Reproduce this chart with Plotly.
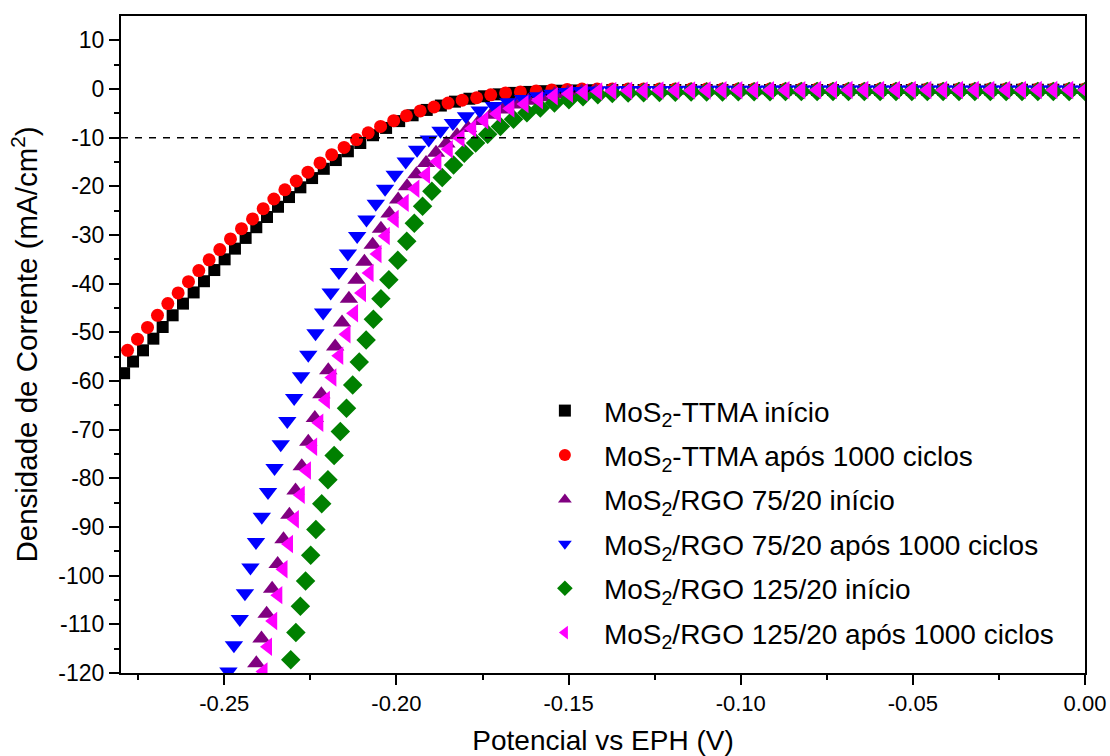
import plotly.graph_objects as go

# Linear sweep voltammetry (HER) – current density vs potential

# MoS2-TTMA início
BLK_X = [-0.2791, -0.2765, -0.2736, -0.2706, -0.2679, -0.2650, -0.2620, -0.2589, -0.2559, -0.2529,
         -0.2499, -0.2469, -0.2438, -0.2407, -0.2376, -0.2344, -0.2312, -0.2279, -0.2245, -0.2211,
         -0.2176, -0.2141, -0.2105, -0.2068, -0.2030, -0.1992, -0.1953, -0.1912, -0.1871, -0.1830,
         -0.1788, -0.1746, -0.1703, -0.1659, -0.1615, -0.1570, -0.1525, -0.1480, -0.1436]
BLK_Y = [-58.4, -56.0, -53.7, -51.3, -48.9, -46.5, -44.1, -41.8, -39.5, -37.2,
         -35.0, -32.8, -30.6, -28.4, -26.3, -24.2, -22.2, -20.2, -18.3, -16.4,
         -14.6, -12.8, -11.1, -9.5, -8.0, -6.6, -5.4, -4.3, -3.4, -2.6,
         -2.0, -1.5, -1.1, -0.8, -0.6, -0.45, -0.35, -0.3, -0.25]

# MoS2-TTMA após 1000 ciclos
RED_X = [-0.2781, -0.2752, -0.2723, -0.2694, -0.2664, -0.2634, -0.2604, -0.2574, -0.2544, -0.2513,
         -0.2482, -0.2450, -0.2418, -0.2387, -0.2356, -0.2324, -0.2291, -0.2257, -0.2222, -0.2188,
         -0.2152, -0.2116, -0.2082, -0.2046, -0.2008, -0.1971, -0.1931, -0.1891, -0.1850, -0.1809,
         -0.1767, -0.1726, -0.1683, -0.1640, -0.1594, -0.1549, -0.1504, -0.1461, -0.1417]
RED_Y = [-53.7, -51.4, -49.0, -46.5, -44.1, -41.9, -39.6, -37.3, -35.1, -33.0,
         -30.8, -28.7, -26.7, -24.6, -22.6, -20.7, -18.9, -17.1, -15.2, -13.5,
         -12.0, -10.4, -9.0, -7.7, -6.5, -5.5, -4.5, -3.7, -2.9, -2.3,
         -1.8, -1.2, -0.8, -0.6, -0.4, -0.2, -0.1, 0.0, 0.0]

# MoS2/RGO 75/20 início
PUR_X = [-0.2407, -0.2392, -0.2377, -0.2361, -0.2345, -0.2328, -0.2311, -0.2293, -0.2275, -0.2256,
         -0.2237, -0.2218, -0.2198, -0.2178, -0.2158, -0.2138, -0.2116, -0.2093, -0.2069, -0.2045,
         -0.2020, -0.1995, -0.1969, -0.1942, -0.1914, -0.1885, -0.1855, -0.1824, -0.1792, -0.1759,
         -0.1725, -0.1690, -0.1654, -0.1617, -0.1579, -0.1541, -0.1502, -0.1462, -0.1421]
PUR_Y = [-118.0, -112.9, -107.8, -102.7, -97.6, -92.5, -87.5, -82.5, -77.5, -72.5,
         -67.6, -62.7, -57.8, -52.9, -48.0, -43.1, -39.2, -35.5, -32.0, -28.7,
         -25.6, -22.7, -20.0, -17.5, -15.2, -13.1, -11.2, -9.5, -8.0, -6.6,
         -5.3, -4.2, -3.2, -2.4, -1.7, -1.1, -0.7, -0.5, -0.4]

# MoS2/RGO 75/20 após 1000 ciclos
BLU_X = [-0.2488, -0.2472, -0.2455, -0.2440, -0.2424, -0.2408, -0.2391, -0.2373, -0.2354, -0.2336,
         -0.2317, -0.2297, -0.2277, -0.2256, -0.2235, -0.2213, -0.2191, -0.2167, -0.2141, -0.2114,
         -0.2087, -0.2060, -0.2033, -0.2005, -0.1973, -0.1940, -0.1906, -0.1872, -0.1836, -0.1798,
         -0.1758, -0.1717, -0.1675, -0.1632, -0.1589, -0.1547, -0.1505, -0.1462, -0.1419]
BLU_Y = [-119.7, -114.3, -108.9, -103.6, -98.3, -93.1, -87.9, -82.8, -77.9, -73.0,
         -68.2, -63.5, -59.0, -54.6, -50.2, -45.9, -41.8, -37.6, -33.8, -30.2,
         -26.8, -23.6, -20.5, -17.6, -14.9, -12.5, -10.4, -8.6, -7.0, -5.6,
         -4.4, -3.5, -2.7, -2.05, -1.5, -1.0, -0.6, -0.4, -0.3]

# MoS2/RGO 125/20 início
GRN_X = [-0.2307, -0.2292, -0.2279, -0.2264, -0.2249, -0.2234, -0.2217, -0.2199, -0.2181, -0.2163,
         -0.2145, -0.2127, -0.2108, -0.2088, -0.2067, -0.2045, -0.2022, -0.1996, -0.1970, -0.1948,
         -0.1924, -0.1897, -0.1867, -0.1834, -0.1803, -0.1770, -0.1735, -0.1698, -0.1660, -0.1621,
         -0.1582, -0.1541, -0.1499, -0.1458, -0.1415]
GRN_Y = [-117.3, -111.7, -106.3, -101.1, -95.8, -90.5, -85.2, -80.3, -75.3, -70.4,
         -65.6, -60.8, -56.1, -51.6, -47.3, -43.1, -39.2, -35.2, -31.3, -27.6,
         -24.1, -21.0, -18.2, -15.6, -13.2, -11.1, -9.3, -7.7, -6.2, -4.9,
         -3.9, -2.9, -2.2, -1.6, -1.2]

# MoS2/RGO 125/20 após 1000 ciclos
MAG_X = [-0.2386, -0.2373, -0.2358, -0.2343, -0.2328, -0.2312, -0.2295, -0.2278, -0.2260, -0.2242,
         -0.2224, -0.2205, -0.2186, -0.2166, -0.2145, -0.2123, -0.2100, -0.2078, -0.2055, -0.2031,
         -0.2005, -0.1976, -0.1945, -0.1914, -0.1881, -0.1848, -0.1814, -0.1780, -0.1745, -0.1708,
         -0.1669, -0.1628, -0.1586, -0.1543, -0.1499, -0.1456, -0.1414]
MAG_Y = [-119.7, -114.6, -109.3, -104.0, -98.7, -93.5, -88.4, -83.4, -78.4, -73.5,
         -68.6, -63.9, -59.3, -54.8, -50.4, -46.1, -41.9, -37.8, -33.9, -30.2,
         -26.7, -23.4, -20.5, -17.6, -14.9, -12.4, -10.1, -8.1, -6.4, -5.1,
         -4.0, -3.1, -2.3, -1.5, -1.0, -0.7, -0.5]

# Plateau region (negligible current), shared potentials
TAIL_X = [-0.1373, -0.1327, -0.1282, -0.1236, -0.1190, -0.1144, -0.1099, -0.1053, -0.1007, -0.0961,
          -0.0915, -0.0870, -0.0824, -0.0778, -0.0732, -0.0687, -0.0641, -0.0595, -0.0549, -0.0503,
          -0.0458, -0.0412, -0.0366, -0.0320, -0.0275, -0.0229, -0.0183, -0.0137, -0.0092, -0.0046,
          0.0000]
BLK_TAIL = [-0.2, -0.2, -0.2, -0.2, -0.2, -0.2, -0.2, -0.2, -0.2, -0.2,
            -0.2, -0.2, -0.2, -0.2, -0.2, -0.2, -0.2, -0.2, -0.2, -0.2,
            -0.15, -0.15, -0.15, -0.15, -0.15, -0.15, -0.15, -0.15, -0.15, -0.15, -0.15]
RED_TAIL = [0.0, 0.0, 0.0, 0.0, 0.0, 0.0, 0.0, 0.0, 0.0, 0.0,
            0.0, 0.0, 0.0, 0.0, 0.0, 0.0, 0.0, 0.0, 0.0, 0.0,
            0.0, 0.0, 0.0, 0.0, 0.0, 0.0, 0.0, 0.0, 0.0, 0.0, 0.0]
PUR_TAIL = [-0.35, -0.3, -0.3, -0.3, -0.3, -0.25, -0.25, -0.25, -0.25, -0.25,
            -0.25, -0.25, -0.2, -0.2, -0.2, -0.2, -0.2, -0.2, -0.2, -0.2,
            -0.2, -0.2, -0.2, -0.2, -0.2, -0.2, -0.2, -0.2, -0.2, -0.2, -0.2]
BLU_TAIL = [-0.25, -0.2, -0.2, -0.2, -0.2, -0.15, -0.15, -0.15, -0.15, -0.15,
            -0.1, -0.1, -0.1, -0.1, -0.1, -0.1, -0.1, -0.1, -0.1, -0.1,
            -0.1, -0.1, -0.1, -0.1, -0.1, -0.1, -0.1, -0.1, -0.1, -0.1, -0.1]
GRN_TAIL = [-0.9, -0.8, -0.75, -0.7, -0.65, -0.6, -0.6, -0.6, -0.55, -0.55,
            -0.55, -0.5, -0.5, -0.5, -0.5, -0.5, -0.5, -0.5, -0.5, -0.5,
            -0.5, -0.5, -0.5, -0.5, -0.5, -0.5, -0.5, -0.5, -0.5, -0.5, -0.5]
MAG_TAIL = [-0.4, -0.35, -0.35, -0.3, -0.3, -0.3, -0.3, -0.25, -0.25, -0.25,
            -0.25, -0.25, -0.25, -0.2, -0.2, -0.2, -0.2, -0.2, -0.2, -0.2,
            -0.2, -0.2, -0.2, -0.2, -0.2, -0.2, -0.2, -0.2, -0.2, -0.2, -0.2]

# Axis tick positions and labels
X_TICKS = [-0.25, -0.20, -0.15, -0.10, -0.05, 0.00]
X_LABELS = ["-0.25", "-0.20", "-0.15", "-0.10", "-0.05", "0.00"]
X_MINOR = [-0.275, -0.225, -0.175, -0.125, -0.075, -0.025]
Y_TICKS = [-120, -110, -100, -90, -80, -70, -60, -50, -40, -30, -20, -10, 0, 10]
Y_LABELS = ["-120", "-110", "-100", "-90", "-80", "-70", "-60", "-50",
            "-40", "-30", "-20", "-10", "0", "10"]
Y_MINOR = [-115, -105, -95, -85, -75, -65, -55, -45, -35, -25, -15, -5, 5]
ONSET_J = -10  # reference current density line

FONT = "Liberation Sans, Arial, sans-serif"

series = [
    ("MoS<sub>2</sub>-TTMA início", BLK_X + TAIL_X, BLK_Y + BLK_TAIL, "square", 12, "#000000"),
    ("MoS<sub>2</sub>-TTMA após 1000 ciclos", RED_X + TAIL_X, RED_Y + RED_TAIL, "circle", 13, "#ff0000"),
    ("MoS<sub>2</sub>/RGO 75/20 início", PUR_X + TAIL_X, PUR_Y + PUR_TAIL, "triangle-up", 16, "#800080"),
    ("MoS<sub>2</sub>/RGO 75/20 após 1000 ciclos", BLU_X + TAIL_X, BLU_Y + BLU_TAIL, "triangle-down", 16, "#0000ff"),
    ("MoS<sub>2</sub>/RGO 125/20 início", GRN_X + TAIL_X, GRN_Y + GRN_TAIL, "diamond", 15, "#008000"),
    ("MoS<sub>2</sub>/RGO 125/20 após 1000 ciclos", MAG_X + TAIL_X, MAG_Y + MAG_TAIL, "triangle-left", 16, "#ff00ff"),
]

fig = go.Figure()
for i, (name, xs, ys, sym, size, color) in enumerate(series):
    fig.add_trace(go.Scatter(
        x=xs, y=ys, mode="markers", name=name, legendgroup=f"g{i}",
        marker=dict(symbol=sym, size=size, color=color, line=dict(width=0)),
    ))

# dashed reference line at -10 mA/cm2
fig.add_shape(type="line", xref="paper", x0=0, x1=1, yref="y", y0=ONSET_J, y1=ONSET_J,
              line=dict(color="black", width=1.5, dash="7px,7px"))

axis_common = dict(
    showline=True, mirror=True, linecolor="black", linewidth=2,
    ticks="outside", ticklen=10, tickwidth=2, tickcolor="black",
    showgrid=False, zeroline=False,
)

fig.update_xaxes(
    range=[-0.28, 0.0], tickmode="array", tickvals=X_TICKS, ticktext=X_LABELS,
    minor=dict(tickmode="array", tickvals=X_MINOR, ticks="outside", ticklen=5, tickwidth=2, tickcolor="black"),
    tickfont=dict(family=FONT, size=22, color="black"),
    title=dict(text="Potencial vs EPH (V)", font=dict(family=FONT, size=28, color="black"), standoff=16),
    **axis_common,
)
fig.update_yaxes(
    range=[-120, 15], tickmode="array", tickvals=Y_TICKS, ticktext=Y_LABELS,
    minor=dict(tickmode="array", tickvals=Y_MINOR, ticks="outside", ticklen=5, tickwidth=2, tickcolor="black"),
    tickfont=dict(family=FONT, size=23, color="black"),
    title=dict(text="Densidade de Corrente (mA/cm<sup>2</sup>)", font=dict(family=FONT, size=29.5, color="black"), standoff=12),
    **axis_common,
)

fig.update_layout(
    width=1110, height=756,
    margin=dict(l=121, r=25, t=16, b=83, autoexpand=False),
    paper_bgcolor="white", plot_bgcolor="white",
    showlegend=True,
    legend=dict(
        x=0.42, y=0.437, xanchor="left", yanchor="top",
        bgcolor="rgba(0,0,0,0)", borderwidth=0,
        font=dict(family=FONT, size=28, color="black"),
        itemwidth=68, tracegroupgap=5, itemsizing="constant",
    ),
)

fig.write_html("out.html")
